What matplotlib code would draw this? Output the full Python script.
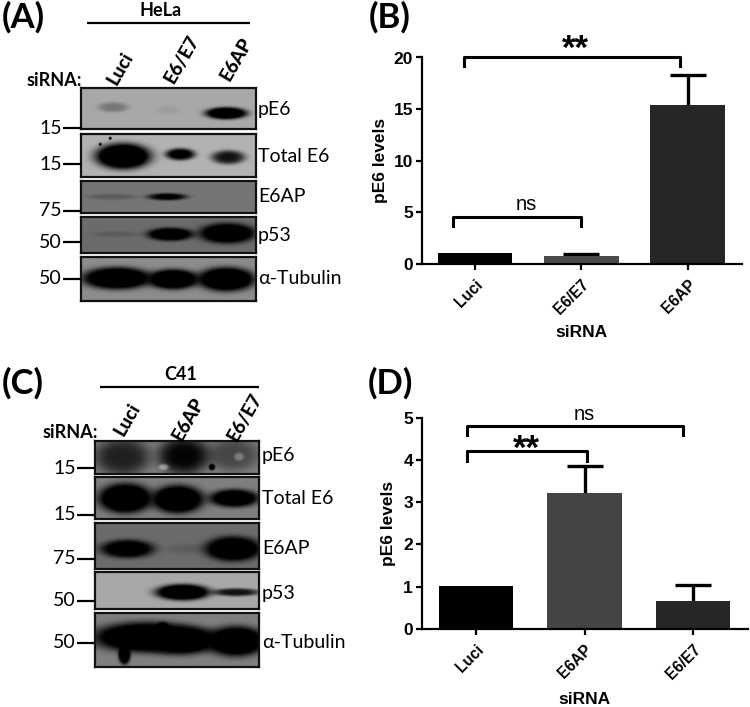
import numpy as np
import matplotlib
matplotlib.use("Agg")
import matplotlib.pyplot as plt

W, H = 750, 707
BLOT_FONT = ["Lato", "DejaVu Sans"]
GRAPH_FONT = "Liberation Sans"

# bar chart values
labels_b = ["Luci", "E6/E7", "E6AP"]
means_b = [1.1, 0.8, 15.4]
tops_b = [1.1, 0.95, 18.3]
colors_b = ["#000000", "#4a4a4a", "#262626"]

labels_d = ["Luci", "E6AP", "E6/E7"]
means_d = [1.02, 3.22, 0.66]
tops_d = [1.02, 3.85, 1.05]
colors_d = ["#000000", "#444444", "#262626"]

# brackets: x0, x1, top, foot
brackets_b = [(-0.10, 1.93, 20.05, 19.2), (-0.21, 1.0, 4.6, 3.7)]
brackets_d = [(-0.08, 1.91, 4.80, 4.59), (-0.08, 1.02, 4.21, 3.98)]

# blots: name, top, bottom, background grey, bands (cx, cy, half width, half height, darkness)
blots_a = [
    ("pE6", 88, 129, 0.66, [(113, 107, 15, 5, 0.2), (168, 110, 12, 5, 0.04), (226, 113, 21, 6, 0.95)]),
    ("Total E6", 134, 177, 0.70, [(123, 156, 28, 13, 1.0), (180, 154, 15, 6, 0.75), (228, 157, 17, 7, 0.6),
                                  (110, 138, 1.5, 1.5, 0.8), (100, 144, 1.5, 1.5, 0.8)]),
    ("E6AP", 181, 213, 0.46, [(112, 197, 25, 3, 0.15), (167, 197, 20, 3.5, 0.7)]),
    ("p53", 217, 253, 0.42, [(117, 234, 24, 3, 0.1), (170, 234, 23, 6.5, 0.95), (227, 233, 28, 10, 1.0)]),
    ("α-Tubulin", 257, 301, 0.55, [(117, 278, 35, 11, 1.0), (173, 279, 26, 10, 1.0), (226, 279, 29, 12, 1.0)]),
]
blots_c = [
    ("pE6", 441, 474, 0.50, [(122, 457, 28, 18, 0.5), (183, 456, 26, 18, 0.65), (232, 455, 26, 16, 0.3),
                             (211, 467, 3, 3, 1.0), (163, 467, 5, 3, -0.3), (238, 457, 5, 4, -0.2)]),
    ("Total E6", 477, 519, 0.50, [(125, 498, 27, 15, 1.0), (177, 499, 26, 14, 1.0), (233, 498, 25, 9, 0.9)]),
    ("E6AP", 523, 569, 0.42, [(127, 549, 27, 9, 0.85), (185, 549, 20, 5, 0.08), (232, 549, 28, 12, 1.0)]),
    ("p53", 572, 609, 0.66, [(182, 592, 27, 8, 1.0), (235, 592, 24, 4, 0.6)]),
    ("α-Tubulin", 613, 667, 0.50, [(145, 637, 52, 15, 1.0), (180, 640, 38, 14, 1.0), (235, 641, 30, 15, 1.0),
                                   (162, 628, 7, 6, 1.0), (124, 654, 6, 10, 1.0)]),
]
# ladder: text, y
ladder_a = [("15", 128), ("15", 164), ("75", 211), ("50", 242), ("50", 279)]
ladder_c = [("15", 468), ("15", 515), ("75", 559), ("50", 601), ("50", 643)]
# right hand blot label heights
names_y_a = [110, 157, 197, 235, 279]
names_y_c = [455, 499, 549, 593, 643]
# lane labels: text, x, y
lanes_a = [("Luci", 120, 68), ("E6/E7", 182, 59), ("E6AP", 236, 59)]
lanes_c = [("Luci", 127, 419), ("E6AP", 188, 419), ("E6/E7", 245, 417)]

fig = plt.figure(figsize=(W / 100, H / 100), dpi=100, facecolor="white")


def ftext(x, y, s, **kw):
    kw.setdefault("va", "center")
    return fig.text(x / W, 1 - y / H, s, **kw)


def fline(x0, y0, x1, y1, lw=1.6):
    fig.add_artist(plt.Line2D([x0 / W, x1 / W], [1 - y0 / H, 1 - y1 / H], color="black", lw=lw,
                              solid_capstyle="butt"))


def draw_blot(x0, x1, top, bottom, bg, bands):
    xs, ys = np.meshgrid(np.arange(x0, x1, 0.5), np.arange(top, bottom, 0.5))
    img = np.full(xs.shape, bg, dtype=float)
    for cx, cy, wx, wy, dark in bands:
        r = (np.abs(xs - cx) / wx) ** 2 + (np.abs(ys - cy) / wy) ** 2
        a = np.clip(1.5 * abs(dark) * np.exp(-(r ** 2)), 0, 1)
        img = img * (1 - a) + (0.0 if dark > 0 else 1.0) * a
    ax = fig.add_axes([x0 / W, 1 - bottom / H, (x1 - x0) / W, (bottom - top) / H])
    ax.imshow(img, cmap="gray", vmin=0, vmax=1, aspect="auto", interpolation="bilinear")
    ax.set_xticks([])
    ax.set_yticks([])
    for s in ax.spines.values():
        s.set_linewidth(1.6)
        s.set_color("#111111")


def blot_panel(letter, letter_y, cell, cell_x, cell_y, rule, blots, x0, x1, ladder, names_y, name_x,
               sirna_x, sirna_y, lanes):
    ftext(2, letter_y, letter, fontsize=25, fontweight="bold", family=BLOT_FONT, ha="left")
    ftext(cell_x, cell_y, cell, fontsize=13, fontweight="bold", family=BLOT_FONT, ha="center")
    fline(*rule)
    ftext(sirna_x, sirna_y, "siRNA:", fontsize=13, fontweight="bold", family=BLOT_FONT, ha="right")
    for s, x, y in lanes:
        ftext(x, y, s, fontsize=13.5, fontweight="black", family=BLOT_FONT, ha="center", rotation=60)
    for (name, top, bottom, bg, bands), ny in zip(blots, names_y):
        draw_blot(x0, x1, top, bottom, bg, bands)
        ftext(name_x, ny, name, fontsize=14, family=BLOT_FONT, ha="left")
    for s, y in ladder:
        ftext(x0 - 19, y, s, fontsize=14, family=BLOT_FONT, ha="right")
        fline(x0 - 18, y, x0, y)


blot_panel("(A)", 17, "HeLa", 161, 11, (87, 23, 250, 23), blots_a, 81, 256, ladder_a, names_y_a, 258,
           82, 80, lanes_a)
blot_panel("(C)", 383, "C41", 181, 375, (100, 387, 259, 387), blots_c, 95, 259, ladder_c, names_y_c, 262,
           98, 432, lanes_c)


def bar_panel(letter, letter_x, letter_y, box, ymax, yticks, labels, means, tops, colors, brackets,
              notes, ylabel_xy, xlabel_xy, barw):
    left, right, top, bottom, x_zero, unit = box
    ax = fig.add_axes([left / W, 1 - bottom / H, (right - left) / W, (bottom - top) / H])
    x = np.arange(len(means))
    ax.bar(x, means, width=barw, color=colors, zorder=2)
    # only upper whiskers, no cap on the bar itself
    for xi, m, t in zip(x, means, tops):
        if t > m:
            ax.plot([xi, xi], [m, t], color="black", lw=2.4, zorder=1, solid_capstyle="butt")
            ax.plot([xi], [t], marker="_", ms=26, mew=2.4, color="black", zorder=1)
    ax.set_xlim((left - x_zero) / unit, (right - x_zero) / unit)
    ax.set_ylim(0, ymax)
    ax.set_yticks(yticks)
    ax.set_xticks(x)
    ax.set_xticklabels(labels, rotation=45, ha="right", rotation_mode="anchor", fontsize=11.2,
                       fontweight="bold", family=GRAPH_FONT)
    ax.set_yticklabels([str(t) for t in yticks], fontsize=12.5, fontweight="bold", family=GRAPH_FONT)
    ax.tick_params(axis="both", width=1.6, length=4.5, pad=2)
    ax.tick_params(axis="x", pad=5)
    for s in ["top", "right"]:
        ax.spines[s].set_visible(False)
    for s in ["left", "bottom"]:
        ax.spines[s].set_linewidth(1.6)
    for x0, x1, t, f in brackets:
        ax.plot([x0, x0, x1, x1], [f, t, t, f], color="black", lw=2.2, clip_on=False,
                solid_joinstyle="round", zorder=3)
    for s, nx, ny, size in notes:
        ftext(nx, ny, s, fontsize=size, fontweight="bold" if "*" in s else "normal", family=GRAPH_FONT,
              ha="center")
    ftext(letter_x, letter_y, letter, fontsize=25, fontweight="bold", family=BLOT_FONT, ha="left")
    ftext(ylabel_xy[0], ylabel_xy[1], "pE6 levels", fontsize=12.5, fontweight="bold", family=GRAPH_FONT,
          rotation=90, ha="center")
    ftext(xlabel_xy[0], xlabel_xy[1], "siRNA", fontsize=12.5, fontweight="bold", family=GRAPH_FONT,
          ha="center")


bar_panel("(B)", 369, 17, (422, 742, 57.5, 264, 475, 106.3), 20, [0, 5, 10, 15, 20], labels_b, means_b,
          tops_b, colors_b, brackets_b, [("**", 575, 49, 25), ("ns", 526, 205, 14.5)], (381, 160),
          (581, 333), 0.70)
bar_panel("(D)", 368, 383, (422, 748, 417.7, 629, 476, 108.5), 5, [0, 1, 2, 3, 4, 5], labels_d, means_d,
          tops_d, colors_d, brackets_d, [("ns", 584, 415, 14.5), ("**", 526, 449, 25)], (388, 523),
          (584, 699), 0.69)

fig.savefig("out.png", dpi=100)
